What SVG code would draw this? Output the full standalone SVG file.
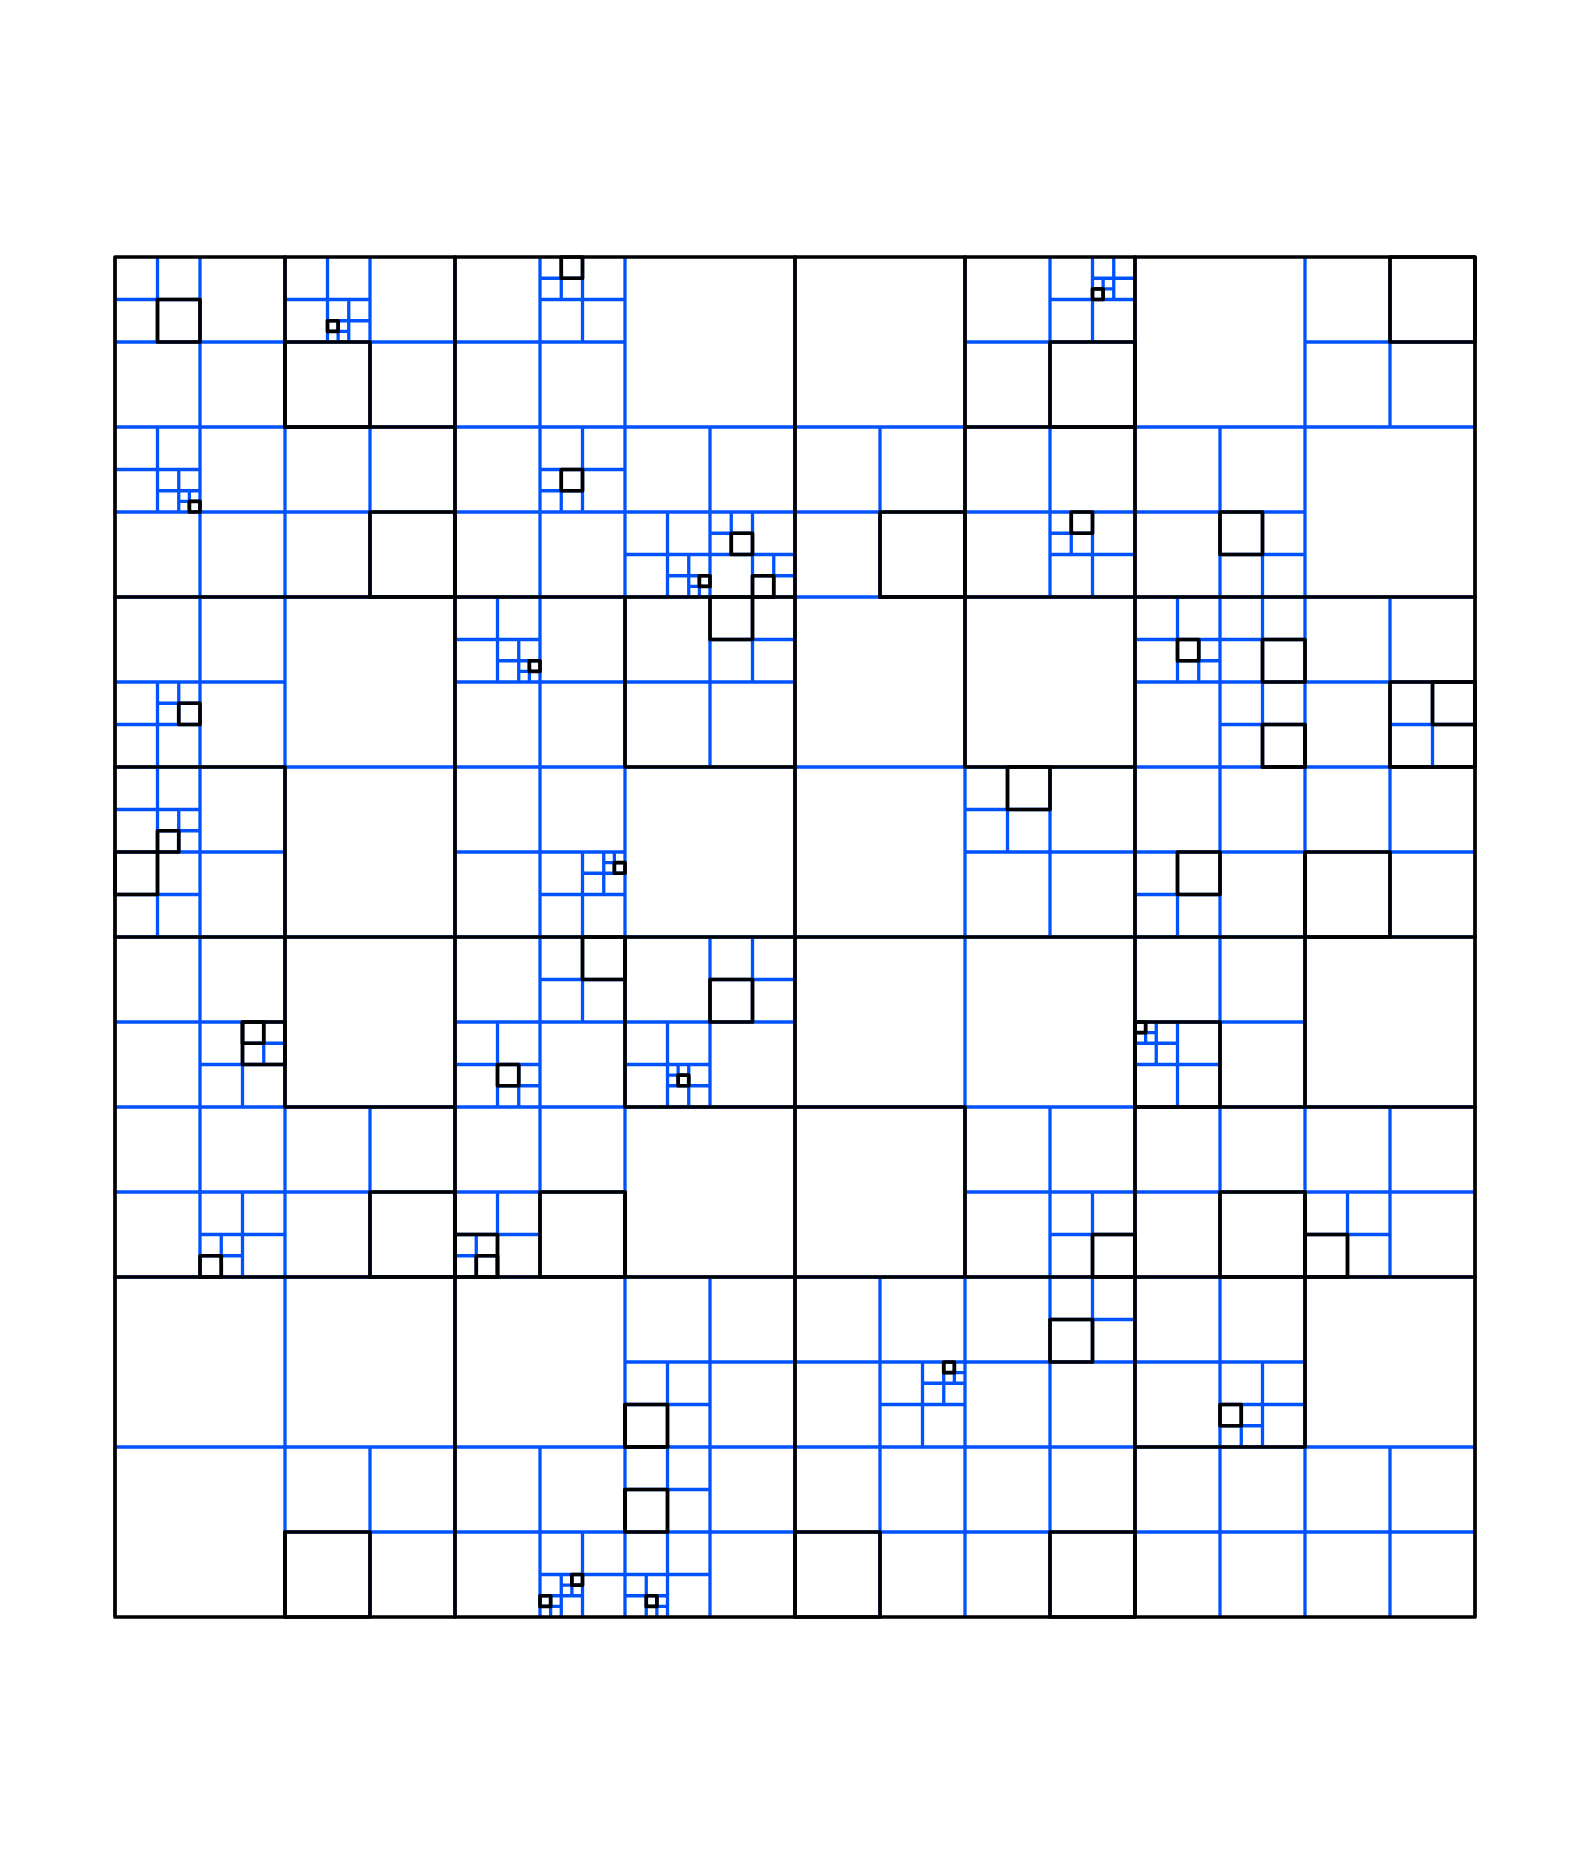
<svg xmlns="http://www.w3.org/2000/svg" width="1590" height="1875" viewBox="0 0 1590 1875">
<style>
.b{fill:none;stroke:#0052ff;stroke-width:0.155;stroke-linecap:butt}
.k{fill:none;stroke:#000;stroke-width:0.175;stroke-linejoin:round;stroke-linecap:round}
</style>
<rect width="1590" height="1875" fill="#fff"/>
<g transform="translate(115 257) scale(21.25)">
<g id="blue-subdivisions">
<path class="b" d="M8 0V64M16 0V64M24 0V64M32 0V64M40 0V64M48 0V64M56 0V64M0 8H64M0 16H64M0 24H64M0 32H64M0 40H64M0 48H64M0 56H64"/>
<path class="b" d="M4 0v8M0 4h8M12 0v8M8 4h8M20 0v8M16 4h8M44 0v8M40 4h8M60 0v8M56 4h8M4 8v8M0 12h8M12 8v8M8 12h8M20 8v8M16 12h8M28 8v8M24 12h8M36 8v8M32 12h8M44 8v8M40 12h8M52 8v8M48 12h8M4 16v8M0 20h8M20 16v8M16 20h8M28 16v8M24 20h8M52 16v8M48 20h8M60 16v8M56 20h8M4 24v8M0 28h8M20 24v8M16 28h8M44 24v8M40 28h8M52 24v8M48 28h8M60 24v8M56 28h8M4 32v8M0 36h8M20 32v8M16 36h8M28 32v8M24 36h8M52 32v8M48 36h8M4 40v8M0 44h8M12 40v8M8 44h8M20 40v8M16 44h8M44 40v8M40 44h8M52 40v8M48 44h8M60 40v8M56 44h8M28 48v8M24 52h8M36 48v8M32 52h8M44 48v8M40 52h8M52 48v8M48 52h8M12 56v8M8 60h8M20 56v8M16 60h8M28 56v8M24 60h8M36 56v8M32 60h8M44 56v8M40 60h8M52 56v8M48 60h8M60 56v8M56 60h8"/>
<path class="b" d="M2 0v4M0 2h4M10 0v4M8 2h4M22 0v4M20 2h4M46 0v4M44 2h4M2 8v4M0 10h4M22 8v4M20 10h4M26 12v4M24 14h4M30 12v4M28 14h4M46 12v4M44 14h4M54 12v4M52 14h4M2 20v4M0 22h4M18 16v4M16 18h4M30 16v4M28 18h4M50 16v4M48 18h4M54 16v4M52 18h4M54 20v4M52 22h4M62 20v4M60 22h4M2 24v4M0 26h4M2 28v4M0 30h4M22 28v4M20 30h4M42 24v4M40 26h4M50 28v4M48 30h4M6 36v4M4 38h4M22 32v4M20 34h4M18 36v4M16 38h4M30 32v4M28 34h4M26 36v4M24 38h4M50 36v4M48 38h4M6 44v4M4 46h4M18 44v4M16 46h4M46 44v4M44 46h4M58 44v4M56 46h4M26 52v4M24 54h4M38 52v4M36 54h4M46 48v4M44 50h4M54 52v4M52 54h4M22 60v4M20 62h4M26 56v4M24 58h4M26 60v4M24 62h4"/>
<path class="b" d="M11 2v2M10 3h2M21 0v2M20 1h2M47 0v2M46 1h2M3 10v2M2 11h2M21 10v2M20 11h2M27 14v2M26 15h2M29 12v2M28 13h2M31 14v2M30 15h2M45 12v2M44 13h2M3 20v2M2 21h2M19 18v2M18 19h2M51 18v2M50 19h2M3 26v2M2 27h2M23 28v2M22 29h2M7 36v2M6 37h2M19 38v2M18 39h2M27 38v2M26 39h2M49 36v2M48 37h2M5 46v2M4 47h2M17 46v2M16 47h2M39 52v2M38 53h2M53 54v2M52 55h2M21 62v2M20 63h2M25 62v2M24 63h2"/>
<path class="b" d="M10.5 3v1M10 3.5h1M46.5 1v1M46 1.5h1M3.5 11v1M3 11.5h1M27.5 15v1M27 15.5h1M19.5 19v1M19 19.5h1M23.5 28v1M23 28.5h1M26.5 38v1M26 38.5h1M48.5 36v1M48 36.5h1M39.5 52v1M39 52.5h1M21.5 62v1M21 62.5h1M20.5 63v1M20 63.5h1M25.5 63v1M25 63.5h1"/>
</g>
<g id="black-outlines" class="k">
<path d="M8 0V8M8 24V40M8 60V64M16 0V64M24 16V24M24 32V40M24 44V48M24 54V56M24 58V60M32 0V64M40 0V24M40 40V48M48 0V64M56 22V24M56 28V40M56 44V56M8 8H16M40 8H48M0 16H32M36 16H64M0 24H8M24 24H32M40 24H48M54 24H56M60 24H64M0 32H64M8 40H16M24 40H40M48 40H64M0 48H64M24 56H26M48 56H56"/>
<rect x="2" y="2" width="2" height="2"/>
<rect x="8" y="4" width="4" height="4"/>
<rect x="10" y="3" width="0.5" height="0.5"/>
<rect x="21" y="0" width="1" height="1"/>
<rect x="44" y="4" width="4" height="4"/>
<rect x="46" y="1.5" width="0.5" height="0.5"/>
<rect x="60" y="0" width="4" height="4"/>
<rect x="3.5" y="11.5" width="0.5" height="0.5"/>
<rect x="12" y="12" width="4" height="4"/>
<rect x="21" y="10" width="1" height="1"/>
<rect x="27.5" y="15" width="0.5" height="0.5"/>
<rect x="29" y="13" width="1" height="1"/>
<rect x="30" y="15" width="1" height="1"/>
<rect x="36" y="12" width="4" height="4"/>
<rect x="45" y="12" width="1" height="1"/>
<rect x="52" y="12" width="2" height="2"/>
<rect x="3" y="21" width="1" height="1"/>
<rect x="19.5" y="19" width="0.5" height="0.5"/>
<rect x="28" y="16" width="2" height="2"/>
<rect x="50" y="18" width="1" height="1"/>
<rect x="54" y="18" width="2" height="2"/>
<rect x="54" y="22" width="2" height="2"/>
<rect x="60" y="20" width="4" height="4"/>
<rect x="62" y="20" width="2" height="2"/>
<rect x="2" y="27" width="1" height="1"/>
<rect x="0" y="28" width="2" height="2"/>
<rect x="23.5" y="28.5" width="0.5" height="0.5"/>
<rect x="42" y="24" width="2" height="2"/>
<rect x="50" y="28" width="2" height="2"/>
<rect x="56" y="28" width="4" height="4"/>
<rect x="6" y="36" width="2" height="2"/>
<rect x="6" y="36" width="1" height="1"/>
<rect x="22" y="32" width="2" height="2"/>
<rect x="18" y="38" width="1" height="1"/>
<rect x="28" y="34" width="2" height="2"/>
<rect x="26.5" y="38.5" width="0.5" height="0.5"/>
<rect x="48" y="36" width="4" height="4"/>
<rect x="48" y="36" width="0.5" height="0.5"/>
<rect x="4" y="47" width="1" height="1"/>
<rect x="12" y="44" width="4" height="4"/>
<rect x="20" y="44" width="4" height="4"/>
<rect x="16" y="46" width="2" height="2"/>
<rect x="17" y="47" width="1" height="1"/>
<rect x="46" y="46" width="2" height="2"/>
<rect x="52" y="44" width="4" height="4"/>
<rect x="56" y="46" width="2" height="2"/>
<rect x="24" y="54" width="2" height="2"/>
<rect x="39" y="52" width="0.5" height="0.5"/>
<rect x="44" y="50" width="2" height="2"/>
<rect x="52" y="54" width="1" height="1"/>
<rect x="8" y="60" width="4" height="4"/>
<rect x="21.5" y="62" width="0.5" height="0.5"/>
<rect x="20" y="63" width="0.5" height="0.5"/>
<rect x="24" y="58" width="2" height="2"/>
<rect x="25" y="63" width="0.5" height="0.5"/>
<rect x="32" y="60" width="4" height="4"/>
<rect x="44" y="60" width="4" height="4"/>
<rect x="0" y="0" width="64" height="64"/>
</g>
</g>
</svg>
